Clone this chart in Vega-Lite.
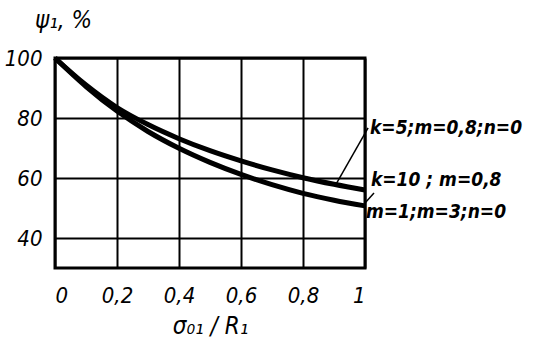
{
  "$schema": "https://vega.github.io/schema/vega-lite/v6.json",
  "width": 310,
  "height": 210,
  "autosize": "none",
  "padding": {"left": 55, "top": 58, "right": 171, "bottom": 92},
  "background": "white",
  "config": {
    "view": {"stroke": "black", "strokeWidth": 3},
    "axis": {
      "labelFont": "DejaVu Sans Condensed, sans-serif",
      "labelFontStyle": "italic",
      "labelFontSize": 22,
      "labelColor": "black",
      "titleFont": "DejaVu Sans Condensed, sans-serif",
      "titleFontStyle": "italic",
      "titleFontWeight": "normal",
      "titleFontSize": 24,
      "titleColor": "black",
      "grid": true,
      "gridColor": "black",
      "gridWidth": 2,
      "gridOpacity": 1,
      "domain": false,
      "ticks": false
    }
  },
  "layer": [
    {
      "data": {"values": [
        {"series": "k=5;m=0,8;n=0", "x": 0, "y": 100},
        {"series": "k=5;m=0,8;n=0", "x": 0.1, "y": 91},
        {"series": "k=5;m=0,8;n=0", "x": 0.2, "y": 83.5},
        {"series": "k=5;m=0,8;n=0", "x": 0.3, "y": 77.8},
        {"series": "k=5;m=0,8;n=0", "x": 0.4, "y": 73.1},
        {"series": "k=5;m=0,8;n=0", "x": 0.5, "y": 69.1},
        {"series": "k=5;m=0,8;n=0", "x": 0.6, "y": 65.7},
        {"series": "k=5;m=0,8;n=0", "x": 0.7, "y": 62.7},
        {"series": "k=5;m=0,8;n=0", "x": 0.8, "y": 60.1},
        {"series": "k=5;m=0,8;n=0", "x": 0.9, "y": 57.9},
        {"series": "k=5;m=0,8;n=0", "x": 1.0, "y": 56.0},
        {"series": "m=1;m=3;n=0", "x": 0, "y": 100},
        {"series": "m=1;m=3;n=0", "x": 0.1, "y": 90.5},
        {"series": "m=1;m=3;n=0", "x": 0.2, "y": 82.3},
        {"series": "m=1;m=3;n=0", "x": 0.3, "y": 75.5},
        {"series": "m=1;m=3;n=0", "x": 0.4, "y": 69.9},
        {"series": "m=1;m=3;n=0", "x": 0.5, "y": 65.2},
        {"series": "m=1;m=3;n=0", "x": 0.6, "y": 61.2},
        {"series": "m=1;m=3;n=0", "x": 0.7, "y": 57.8},
        {"series": "m=1;m=3;n=0", "x": 0.8, "y": 54.9},
        {"series": "m=1;m=3;n=0", "x": 0.9, "y": 52.6},
        {"series": "m=1;m=3;n=0", "x": 1.0, "y": 50.7}
      ]},
      "mark": {"type": "line", "interpolate": "monotone", "color": "black", "strokeWidth": 5, "clip": false},
      "encoding": {
        "x": {
          "field": "x", "type": "quantitative",
          "scale": {"domain": [0, 1], "nice": false},
          "axis": {
            "values": [0, 0.2, 0.4, 0.6, 0.8, 1],
            "labelExpr": "datum.value == 0 ? '0' : datum.value == 1 ? '1' : replace(format(datum.value, '.1f'), '.', ',')",
            "labelPadding": 17,
            "title": "σ₀₁ / R₁",
            "titleX": 155,
            "titleY": 58,
            "titleBaseline": "middle"
          }
        },
        "y": {
          "field": "y", "type": "quantitative",
          "scale": {"domain": [30, 100], "nice": false, "zero": false},
          "axis": {
            "values": [40, 60, 80, 100],
            "labelPadding": 13,
            "title": "ψ₁, %",
            "titleAngle": 0,
            "titleAlign": "center",
            "titleBaseline": "middle",
            "titleX": 8,
            "titleY": -38
          }
        },
        "detail": {"field": "series"}
      }
    },
    {
      "data": {"values": [
        {"x": 0.903, "y": 57.3, "x2": 1.01, "y2": 76.7},
        {"x": 1.0, "y": 51.7, "x2": 1.029, "y2": 55}
      ]},
      "mark": {"type": "rule", "color": "black", "strokeWidth": 1.5, "clip": false},
      "encoding": {
        "x": {"field": "x", "type": "quantitative"},
        "y": {"field": "y", "type": "quantitative"},
        "x2": {"field": "x2"},
        "y2": {"field": "y2"}
      }
    },
    {
      "data": {"values": [
        {"label": "k=5;m=0,8;n=0", "x": 1.016, "y": 76.7},
        {"label": "k=10 ; m=0,8", "x": 1.019, "y": 59.3},
        {"label": "m=1;m=3;n=0", "x": 1.003, "y": 48.7}
      ]},
      "mark": {
        "type": "text", "align": "left", "baseline": "middle",
        "font": "DejaVu Sans Condensed, sans-serif",
        "fontStyle": "italic", "fontWeight": "bold", "fontSize": 19,
        "color": "black", "clip": false
      },
      "encoding": {
        "x": {"field": "x", "type": "quantitative"},
        "y": {"field": "y", "type": "quantitative"},
        "text": {"field": "label"}
      }
    }
  ]
}
